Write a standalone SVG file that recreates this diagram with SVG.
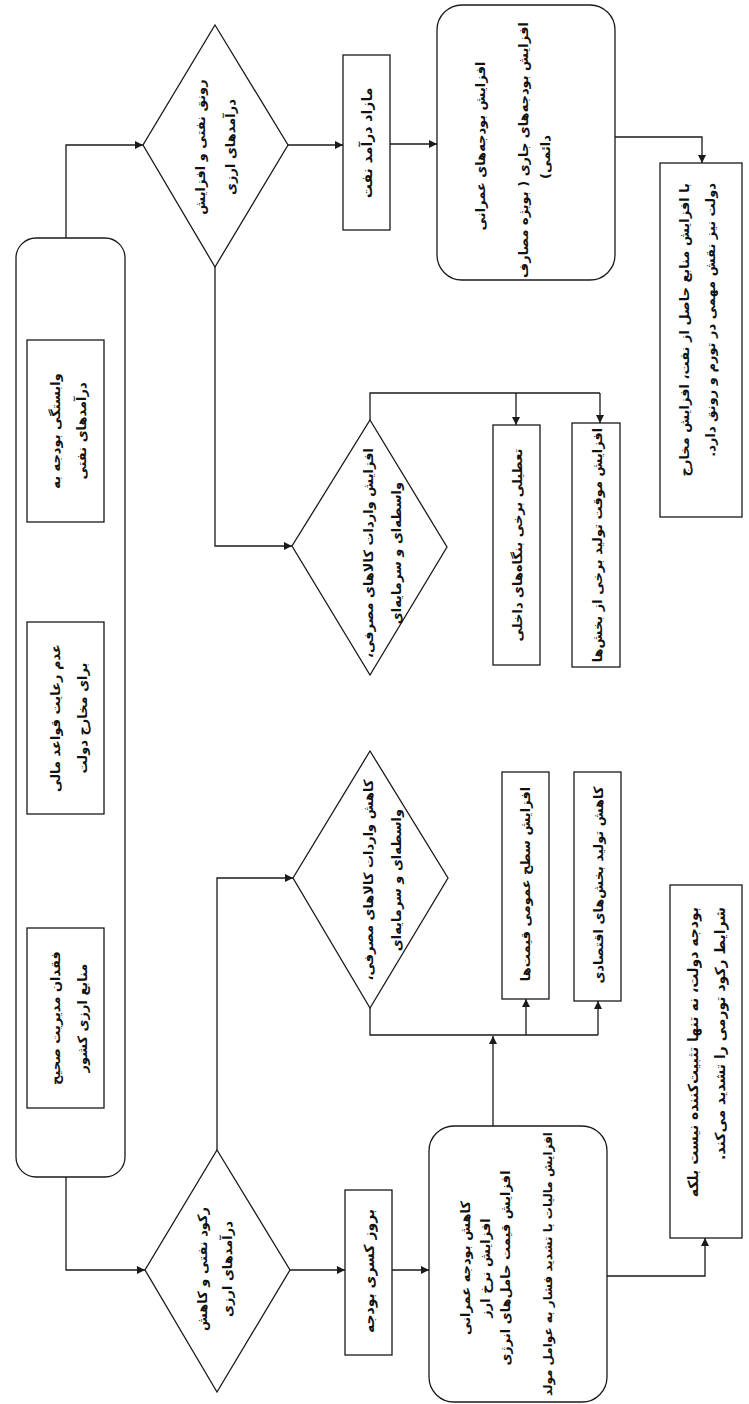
<svg xmlns="http://www.w3.org/2000/svg" width="749" height="1404" viewBox="0 0 749 1404">
<style>
.bg{fill:#ffffff}
.s{fill:#ffffff;stroke:#1a1a1a;stroke-width:1.3}
.c{fill:none;stroke:#1a1a1a;stroke-width:1.3}
.t{font-family:'DejaVu Sans','Noto Sans',sans-serif;font-weight:bold;font-size:13px;fill:#111;text-anchor:middle;dominant-baseline:central;direction:rtl}
.ts{text-anchor:start}
.tb{font-size:14px}
.tl{font-size:12px}
</style>
<defs>
<marker id="ah" viewBox="0 0 10 10" refX="10" refY="5" markerWidth="9" markerHeight="8" markerUnits="userSpaceOnUse" orient="auto">
<path d="M0,0 L10,5 L0,10 z" fill="#1a1a1a"/>
</marker>
</defs>
<rect class="bg" x="0" y="0" width="749" height="1404"/>

<g id="connectors">
<path class="c" d="M66,238 V145 H143" marker-end="url(#ah)"/>
<path class="c" d="M288,145 H343" marker-end="url(#ah)"/>
<path class="c" d="M390,144 H437" marker-end="url(#ah)"/>
<path class="c" d="M615,137 H702 V163" marker-end="url(#ah)"/>
<path class="c" d="M215,267 V546 H292" marker-end="url(#ah)"/>
<path class="c" d="M370,420 V393 H600"/>
<path class="c" d="M516,393 V425" marker-end="url(#ah)"/>
<path class="c" d="M600,393 V423" marker-end="url(#ah)"/>
<path class="c" d="M66,1177 V1270 H145" marker-end="url(#ah)"/>
<path class="c" d="M217,1150 V878 H293" marker-end="url(#ah)"/>
<path class="c" d="M290,1270 H345" marker-end="url(#ah)"/>
<path class="c" d="M392,1270 H429" marker-end="url(#ah)"/>
<path class="c" d="M370,1008 V1035 H598"/>
<path class="c" d="M493,1126 V1036" marker-end="url(#ah)"/>
<path class="c" d="M526,1035 V999" marker-end="url(#ah)"/>
<path class="c" d="M598,1035 V1001" marker-end="url(#ah)"/>
<path class="c" d="M607,1276 H705 V1238" marker-end="url(#ah)"/>
</g>

<g id="n-causes">
<rect class="s" x="16" y="238" width="109" height="939" rx="20" ry="20"/>
</g>
<g id="n-dependence">
<rect class="s" x="27" y="340" width="77" height="182"/>
<text class="t" transform="translate(55,431) rotate(-90)">وابستگی بودجه به</text>
<text class="t" transform="translate(81,431) rotate(-90)">درآمدهای نفتی</text>
</g>
<g id="n-rules">
<rect class="s" x="27" y="622" width="77" height="192"/>
<text class="t" transform="translate(55,718) rotate(-90)">عدم رعایت قواعد مالی</text>
<text class="t" transform="translate(82,718) rotate(-90)">برای مخارج دولت</text>
</g>
<g id="n-management">
<rect class="s" x="27" y="928" width="77" height="180"/>
<text class="t" transform="translate(55,1018) rotate(-90)">فقدان مدیریت صحیح</text>
<text class="t" transform="translate(82,1018) rotate(-90)">منابع ارزی کشور</text>
</g>

<g id="n-boom">
<polygon class="s" points="215,25 288,145 215,267 143,145"/>
<text class="t" transform="translate(200,147) rotate(-90)">رونق نفتی و افزایش</text>
<text class="t" transform="translate(230,147) rotate(-90)">درآمدهای ارزی</text>
</g>
<g id="n-surplus">
<rect class="s" x="343" y="55" width="47" height="175"/>
<text class="t tb" transform="translate(367,143) rotate(-90)">مازاد درآمد نفت</text>
</g>
<g id="n-budget-up">
<rect class="s" x="437" y="5" width="178" height="275" rx="25" ry="25"/>
<text class="t" transform="translate(480,146) rotate(-90)">افزایش بودجه&#x200C;های عمرانی</text>
<text class="t" transform="translate(523,150) rotate(-90)">افزایش بودجه&#x200C;های جاری ( بویژه مصارف</text>
<text class="t" transform="translate(545,157) rotate(-90)">دائمی)</text>
</g>
<g id="n-boom-result">
<rect class="s" x="660" y="163" width="82" height="354"/>
<text class="t ts" transform="translate(684,183) rotate(-90)">با افزایش منابع حاصل از نفت، افزایش مخارج</text>
<text class="t ts" transform="translate(710,183) rotate(-90)">دولت نیز نقش مهمی در تورم و رونق دارد.</text>
</g>

<g id="n-imports-up">
<polygon class="s" points="370,420 447,547 370,675 292,546"/>
<text class="t" transform="translate(368,553) rotate(-90)">افزایش واردات کالاهای مصرفی،</text>
<text class="t" transform="translate(396,553) rotate(-90)">واسطه&#x200C;ای و سرمایه&#x200C;ای</text>
</g>
<g id="n-closure">
<rect class="s" x="493" y="425" width="47" height="240"/>
<text class="t" transform="translate(517,545) rotate(-90)">تعطیلی برخی بنگاه&#x200C;های داخلی</text>
</g>
<g id="n-temp-prod">
<rect class="s" x="572" y="423" width="48" height="244"/>
<text class="t" transform="translate(597,545) rotate(-90)">افزایش موقت تولید برخی از بخش&#x200C;ها</text>
</g>

<g id="n-imports-down">
<polygon class="s" points="370,751 448,878 370,1008 293,878"/>
<text class="t" transform="translate(368,880) rotate(-90)">کاهش واردات کالاهای مصرفی،</text>
<text class="t" transform="translate(396,880) rotate(-90)">واسطه&#x200C;ای و سرمایه&#x200C;ای</text>
</g>
<g id="n-prices">
<rect class="s" x="502" y="772" width="47" height="227"/>
<text class="t" transform="translate(525,884) rotate(-90)">افزایش سطح عمومی قیمت&#x200C;ها</text>
</g>
<g id="n-prod-down">
<rect class="s" x="574" y="772" width="47" height="229"/>
<text class="t" transform="translate(598,885) rotate(-90)">کاهش تولید بخش&#x200C;های اقتصادی</text>
</g>

<g id="n-recession">
<polygon class="s" points="217,1150 290,1270 217,1392 145,1270"/>
<text class="t" transform="translate(202,1269) rotate(-90)">رکود نفتی و کاهش</text>
<text class="t" transform="translate(227,1269) rotate(-90)">درآمدهای ارزی</text>
</g>
<g id="n-deficit">
<rect class="s" x="345" y="1190" width="47" height="165"/>
<text class="t tb" transform="translate(369,1271) rotate(-90)">بروز کسری بودجه</text>
</g>
<g id="n-budget-down">
<rect class="s" x="429" y="1126" width="178" height="276" rx="25" ry="25"/>
<text class="t" transform="translate(465,1268) rotate(-90)">کاهش بودجه عمرانی</text>
<text class="t" transform="translate(485,1268) rotate(-90)">افزایش نرخ ارز</text>
<text class="t" transform="translate(505,1268) rotate(-90)">افزایش قیمت حامل&#x200C;های انرژی</text>
<text class="t tl" transform="translate(548,1264) rotate(-90)">افزایش مالیات با تشدید فشار به عوامل مولد</text>
</g>
<g id="n-recession-result">
<rect class="s" x="670" y="885" width="72" height="353"/>
<text class="t ts tb" transform="translate(693,907) rotate(-90)">بودجه دولت، نه تنها تثبیت&#x200C;کننده نیست بلکه</text>
<text class="t ts tb" transform="translate(720,907) rotate(-90)">شرایط رکود تورمی را تشدید می&#x200C;کند.</text>
</g>
</svg>
